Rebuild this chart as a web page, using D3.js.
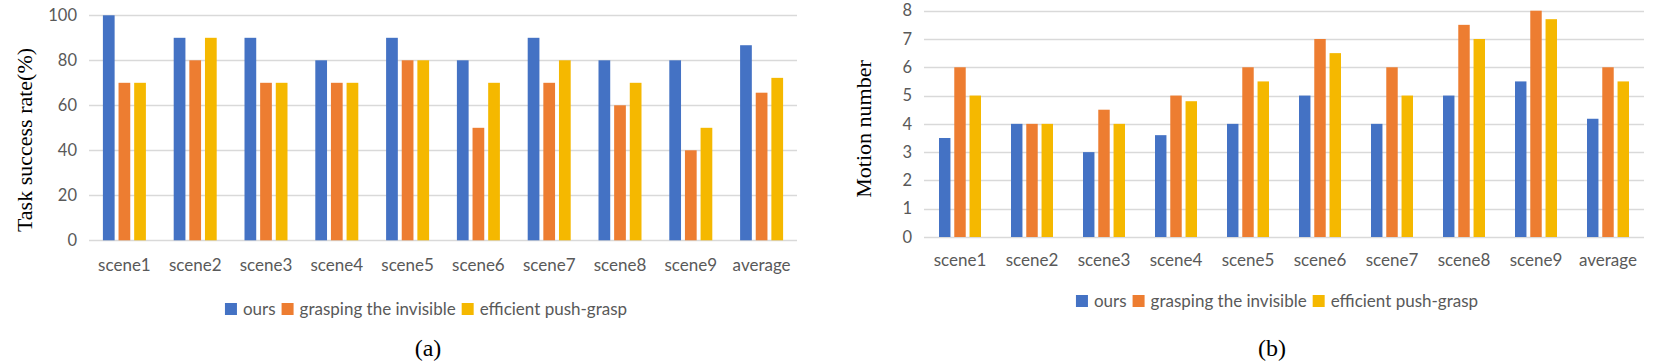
<!DOCTYPE html>
<html>
<head>
<meta charset="utf-8">
<script src="https://cdn.jsdelivr.net/npm/d3@7"></script>
<style>
  body { margin: 0; background: #fff; }
  svg { display: block; }
</style>
</head>
<body>
<div id="chart"></div>
<script>
// categories and series
const categories = ["scene1", "scene2", "scene3", "scene4", "scene5", "scene6", "scene7", "scene8", "scene9", "average"];
const seriesNames = ["ours", "grasping the invisible", "efficient push-grasp"];
const seriesColors = ["#4472C4", "#ED7D31", "#F5B800"];

// (a) task success rate (%)
const successOurs = [100, 90, 90, 80, 90, 80, 90, 80, 80, 86.7];
const successGrasping = [70, 80, 70, 70, 80, 50, 70, 60, 40, 65.6];
const successPush = [70, 90, 70, 70, 80, 70, 80, 70, 50, 72.2];
const successTicks = [0, 20, 40, 60, 80, 100];

// (b) motion number
const motionOurs = [3.5, 4, 3, 3.6, 4, 5, 4, 5, 5.5, 4.18];
const motionGrasping = [6, 4, 4.5, 5, 6, 7, 6, 7.5, 8, 6];
const motionPush = [5, 4, 4, 4.8, 5.5, 6.5, 5, 7, 7.7, 5.5];
const motionTicks = [0, 1, 2, 3, 4, 5, 6, 7, 8];

const width = 1654;
const height = 363;
const sansFont = "Lato, 'Open Sans', sans-serif";
const serifFont = "'Liberation Serif', 'DejaVu Serif', serif";
const textGray = "#595959";

const svg = d3.select("#chart")
    .append("svg")
    .attr("width", width)
    .attr("height", height)
    .style("background", "#fff");

function drawPanel(p) {
    const g = svg.append("g");

    const x = d3.scaleBand()
        .domain(categories)
        .range([p.left, p.right])
        .padding(0);

    const y = d3.scaleLinear()
        .domain([0, p.yMax])
        .range([p.bottom, p.top]);

    // bars inside each category
    const inner = d3.scaleBand()
        .domain(seriesNames)
        .range([-p.groupWidth / 2, p.groupWidth / 2])
        .paddingInner(0.25);

    // gridlines
    g.append("g")
        .selectAll("line")
        .data(p.ticks)
        .enter()
        .append("line")
        .attr("x1", p.left)
        .attr("x2", p.right)
        .attr("y1", d => Math.round(y(d)) + 0.5)
        .attr("y2", d => Math.round(y(d)) + 0.5)
        .style("stroke", "#D9D9D9")
        .style("stroke-width", "1.5px");

    // y tick labels
    const yAxis = g.append("g")
        .attr("transform", `translate(${p.left},0)`)
        .call(d3.axisLeft(y).tickValues(p.ticks).tickSize(0).tickPadding(12));
    yAxis.select(".domain").remove();
    yAxis.selectAll("text")
        .style("font-family", sansFont)
        .style("font-size", "16.5px")
        .style("fill", textGray);

    // x tick labels
    const xAxis = g.append("g")
        .attr("transform", `translate(0,${p.bottom})`)
        .call(d3.axisBottom(x).tickSize(0));
    xAxis.select(".domain").remove();
    xAxis.selectAll("text")
        .attr("y", p.labelOffset)
        .attr("dy", 0)
        .style("font-family", sansFont)
        .style("font-size", "17px")
        .style("fill", textGray);

    // bars
    p.series.forEach((vals, si) => {
        g.append("g")
            .selectAll("rect")
            .data(vals)
            .enter()
            .append("rect")
            .attr("x", (d, i) => x(categories[i]) + x.bandwidth() / 2 + inner(seriesNames[si]))
            .attr("width", inner.bandwidth())
            .attr("y", d => y(d))
            .attr("height", d => y(0) - y(d))
            .style("fill", seriesColors[si]);
    });

    // axis title
    g.append("text")
        .attr("transform", `translate(${p.titleX},${p.titleY}) rotate(-90)`)
        .attr("text-anchor", "middle")
        .attr("dy", "0.35em")
        .style("font-family", serifFont)
        .style("font-size", "22px")
        .style("fill", "#000")
        .text(p.title);

    // legend, centred on legendCx
    const legend = g.append("g");
    const items = seriesNames.map((name, i) => {
        const item = legend.append("g");
        item.append("rect")
            .attr("width", 12)
            .attr("height", 12)
            .attr("y", -12)
            .style("fill", seriesColors[i]);
        const t = item.append("text")
            .attr("x", 18)
            .style("font-family", sansFont)
            .style("font-size", "17px")
            .style("fill", textGray)
            .text(name);
        return { item, w: 18 + t.node().getComputedTextLength() };
    });
    const gap = 6;
    const total = d3.sum(items, d => d.w) + gap * (items.length - 1);
    let cx = p.legendCx - total / 2;
    items.forEach(d => {
        d.item.attr("transform", `translate(${cx},${p.legendY})`);
        cx += d.w + gap;
    });

    // caption
    g.append("text")
        .attr("x", p.captionX)
        .attr("y", 356)
        .attr("text-anchor", "middle")
        .style("font-family", serifFont)
        .style("font-size", "24px")
        .style("fill", "#000")
        .text(p.caption);
}

drawPanel({
    left: 89, right: 797, top: 15.3, bottom: 240.3,
    yMax: 100, ticks: successTicks,
    series: [successOurs, successGrasping, successPush],
    groupWidth: 43,
    labelOffset: 31,
    title: "Task success rate(%)", titleX: 24, titleY: 140,
    legendCx: 426, legendY: 315,
    caption: "(a)", captionX: 428
});

drawPanel({
    left: 924, right: 1644, top: 10.7, bottom: 237,
    yMax: 8, ticks: motionTicks,
    series: [motionOurs, motionGrasping, motionPush],
    groupWidth: 42,
    labelOffset: 29,
    title: "Motion number", titleX: 863, titleY: 129,
    legendCx: 1277, legendY: 307,
    caption: "(b)", captionX: 1272
});
</script>
</body>
</html>
